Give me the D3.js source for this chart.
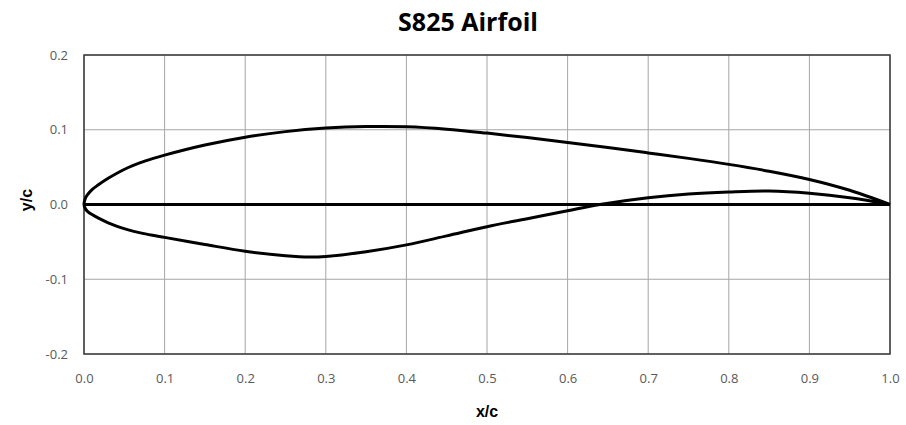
<!DOCTYPE html>
<html><head><meta charset="utf-8">
<script src="https://cdn.jsdelivr.net/npm/d3@7"></script>
<style>body{margin:0;background:#fff}</style>
</head><body><svg id="c" width="906" height="425"></svg>
<script>
const title = "S825 Airfoil";
const xTicks = [0,0.1,0.2,0.3,0.4,0.5,0.6,0.7,0.8,0.9,1.0];
const yTicks = [-0.2,-0.1,0,0.1,0.2];
const upperX = [0,0.002,0.005,0.01,0.0174,0.03,0.042,0.055,0.07,0.085,0.1,0.15,0.2,0.25,0.3,0.35,0.4,0.45,0.5,0.55,0.6,0.65,0.7,0.75,0.8,0.85,0.9,0.95,1.0];
const upperY = [0,0.009,0.014,0.020,0.026,0.035,0.0425,0.0495,0.056,0.0613,0.066,0.0795,0.0900,0.0975,0.1022,0.1043,0.1040,0.1008,0.0955,0.0895,0.0830,0.0762,0.0690,0.0617,0.0537,0.0445,0.0335,0.0190,0];
const lowerX = [0,0.002,0.005,0.01,0.0174,0.03,0.042,0.055,0.07,0.085,0.1,0.15,0.2,0.25,0.28,0.3,0.35,0.4,0.45,0.5,0.55,0.6,0.64,0.7,0.75,0.8,0.85,0.9,0.95,1.0];
const lowerY = [0,-0.0062,-0.0098,-0.0135,-0.018,-0.0245,-0.0295,-0.034,-0.038,-0.0412,-0.044,-0.0535,-0.0625,-0.0685,-0.0703,-0.0695,-0.0632,-0.0540,-0.0420,-0.0297,-0.0190,-0.0083,0,0.0090,0.0140,0.0167,0.0180,0.0150,0.0090,0];
const chordX = [0,1];
const chordY = [0,0];

const svg = d3.select("#c");
const m = {l:84, r:890, t:55, b:354};
const x = d3.scaleLinear().domain([0,1]).range([m.l, m.r]);
const y = d3.scaleLinear().domain([-0.2,0.2]).range([m.b, m.t]);
const fmt = d => d3.format(".1f")(d).replace("\u2212","-");

// grid
svg.append("g").selectAll("line").data(xTicks).join("line")
  .attr("x1", d=>x(d)).attr("x2", d=>x(d)).attr("y1", m.t).attr("y2", m.b)
  .attr("stroke", "#a6a6a6").attr("stroke-width", 1);
svg.append("g").selectAll("line").data(yTicks).join("line")
  .attr("x1", m.l).attr("x2", m.r).attr("y1", d=>y(d)).attr("y2", d=>y(d))
  .attr("stroke", "#a6a6a6").attr("stroke-width", 1);

// axes (labels only)
const xAxis = d3.axisBottom(x).tickValues(xTicks).tickFormat(fmt).tickSize(0).tickPadding(20);
const gx = svg.append("g").attr("transform", `translate(0,${m.b})`).call(xAxis);
const yAxis = d3.axisLeft(y).tickValues(yTicks).tickFormat(fmt).tickSize(0).tickPadding(16);
const gy = svg.append("g").attr("transform", `translate(${m.l},0)`).call(yAxis);
[gx, gy].forEach(g => {
  g.select(".domain").remove();
  g.selectAll("text").attr("font-family", "'Open Sans', sans-serif").attr("font-size", 13).attr("fill", "#595959");
});

// border
svg.append("rect").attr("x", m.l).attr("y", m.t).attr("width", m.r-m.l).attr("height", m.b-m.t)
  .attr("fill", "none").attr("stroke", "#3a3a3a").attr("stroke-width", 1.5);

const zip = (a,b) => a.map((v,i)=>[v,b[i]]);
// contour: trailing edge -> upper -> leading edge -> lower -> trailing edge
const contour = zip(upperX, upperY).reverse().concat(zip(lowerX, lowerY).slice(1));
const line = d3.line().x(d=>x(d[0])).y(d=>y(d[1])).curve(d3.curveCatmullRom.alpha(0.5));
svg.append("path").datum(zip(chordX, chordY)).attr("d", d3.line().x(d=>x(d[0])).y(d=>y(d[1])))
  .attr("fill","none").attr("stroke","#000").attr("stroke-width",3);
svg.append("path").datum(contour).attr("d", line)
  .attr("fill","none").attr("stroke","#000").attr("stroke-width",3).attr("stroke-linejoin","round");

svg.append("text").attr("x", 468).attr("y", 31).attr("text-anchor","middle")
  .attr("font-family","'Open Sans', sans-serif").attr("font-weight","bold").attr("font-size",25)
  .attr("fill","#000").text(title);
svg.append("text").attr("x", (m.l+m.r)/2).attr("y", 417).attr("text-anchor","middle")
  .attr("font-family","'Liberation Sans', Arial, sans-serif").attr("font-weight","bold").attr("font-size",16)
  .attr("fill","#000").text("x/c");
svg.append("text").attr("transform","translate(32,200) rotate(-90)").attr("text-anchor","middle")
  .attr("font-family","'Liberation Sans', Arial, sans-serif").attr("font-weight","bold").attr("font-size",16)
  .attr("fill","#000").text("y/c");
</script></body></html>
